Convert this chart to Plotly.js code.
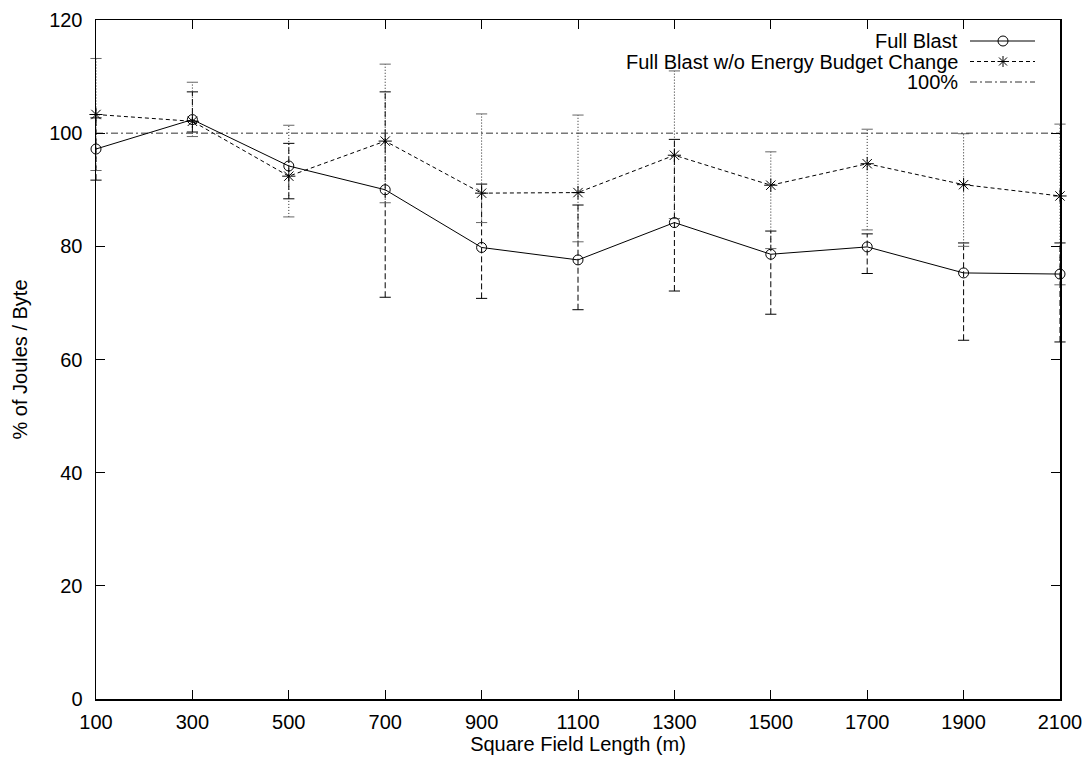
<!DOCTYPE html>
<html>
<head>
<meta charset="utf-8">
<script src="https://cdn.plot.ly/plotly-3.0.1.min.js"></script>
<style>html,body{margin:0;padding:0;background:#fff;}#chart{width:1089px;height:768px;}</style>
</head>
<body>
<div id="chart"></div>
<script>
// ---- data ----
const fieldLength = [100, 300, 500, 700, 900, 1100, 1300, 1500, 1700, 1900, 2100];

const fullBlast     = [97.2, 102.4, 94.2, 90.0, 79.8, 77.6, 84.2, 78.6, 79.9, 75.3, 75.1];
const fullBlastLow  = [91.7, 100.2, 88.4, 71.0, 70.8, 68.8, 72.1, 68.0, 75.2, 63.4, 63.1];
const fullBlastHigh = [102.7, 107.3, 98.2, 107.3, 91.0, 87.3, 98.9, 82.7, 82.2, 80.6, 80.6];

const noBudget     = [103.3, 102.1, 92.4, 98.6, 89.4, 89.5, 96.1, 90.8, 94.6, 90.9, 88.9];
const noBudgetLow  = [93.4, 99.4, 85.2, 87.7, 84.2, 80.8, 84.9, 79.6, 82.9, 80.0, 73.2];
const noBudgetHigh = [113.2, 109.0, 101.4, 112.2, 103.4, 103.2, 111.0, 96.7, 100.7, 99.9, 101.6];

const referenceLevel = [100, 100, 100, 100, 100, 100, 100, 100, 100, 100, 100];

const xTicks = [100, 300, 500, 700, 900, 1100, 1300, 1500, 1700, 1900, 2100];
const yTicks = [0, 20, 40, 60, 80, 100, 120];

const legendLabels = ['Full Blast', 'Full Blast w/o Energy Budget Change', '100%'];

// ---- helpers ----
function barSegments(xs, lo, hi) {
  const x = [], y = [];
  xs.forEach((v, i) => { x.push(v, v, null); y.push(lo[i], hi[i], null); });
  return {x, y};
}
function capPoints(xs, lo, hi) {
  const x = [], y = [];
  xs.forEach((v, i) => { x.push(v, v); y.push(lo[i], hi[i]); });
  return {x, y};
}

const fbBars = barSegments(fieldLength, fullBlastLow, fullBlastHigh);
const fbCaps = capPoints(fieldLength, fullBlastLow, fullBlastHigh);
const nbBars = barSegments(fieldLength, noBudgetLow, noBudgetHigh);
const nbCaps = capPoints(fieldLength, noBudgetLow, noBudgetHigh);

const FB_DASH = '6px,3px';
const NB_DASH = '4px,3px';
const NB_BAR_DASH = '1px,2px';
const REF_DASH = '7px,3px,2px,3px';

const traces = [
  {x: fbBars.x, y: fbBars.y, mode: 'lines', line: {color: '#000', width: 1, dash: FB_DASH},
   showlegend: false, hoverinfo: 'skip', connectgaps: false, cliponaxis: false},
  {x: fbCaps.x, y: fbCaps.y, mode: 'markers', showlegend: false, hoverinfo: 'skip', cliponaxis: false,
   marker: {symbol: 'line-ew', size: 8, line: {color: '#000', width: 1}}},
  {x: nbBars.x, y: nbBars.y, mode: 'lines', line: {color: '#222', width: 1, dash: NB_BAR_DASH},
   showlegend: false, hoverinfo: 'skip', connectgaps: false, cliponaxis: false},
  {x: nbCaps.x, y: nbCaps.y, mode: 'markers', showlegend: false, hoverinfo: 'skip', cliponaxis: false,
   marker: {symbol: 'line-ew', size: 8, line: {color: '#666', width: 1}}},
  {x: fieldLength, y: referenceLevel, mode: 'lines', name: legendLabels[2], showlegend: false,
   line: {color: '#333', width: 1, dash: REF_DASH}},
  {x: fieldLength, y: fullBlast, mode: 'lines+markers', name: legendLabels[0], showlegend: false, cliponaxis: false,
   line: {color: '#000', width: 1},
   marker: {symbol: 'circle-open', size: 10, color: '#000', line: {color: '#000', width: 1}}},
  {x: fieldLength, y: noBudget, mode: 'lines+markers', name: legendLabels[1], showlegend: false, cliponaxis: false,
   line: {color: '#000', width: 1, dash: NB_DASH},
   marker: {symbol: 'asterisk-open', size: 11, color: '#000', line: {color: '#000', width: 1}}}
];

// ---- gnuplot-style key (text right-aligned, sample on the right) ----
const L = 96, R = 1060, T = 20, B = 699;
const px = v => (v - L) / (R - L);
const py = v => (B - v) / (B - T);
const rowsY = [41, 61.5, 82];
const annotations = legendLabels.map((t, i) => ({
  xref: 'paper', yref: 'paper', x: px(960), y: py(rowsY[i]), xanchor: 'right', yanchor: 'middle',
  text: t, showarrow: false, font: {family: 'Liberation Sans, Arial, sans-serif', size: 20, color: '#000'}
}));
const sampleDash = ['solid', NB_DASH, REF_DASH];
const sampleColor = ['#000', '#000', '#333'];
const shapes = sampleDash.map((d, i) => ({
  type: 'line', xref: 'paper', yref: 'paper', x0: px(970), x1: px(1035), y0: py(rowsY[i]), y1: py(rowsY[i]),
  line: {color: sampleColor[i], width: 1, dash: d}
}));
shapes.push({
  type: 'circle', xref: 'paper', yref: 'paper', xsizemode: 'pixel', ysizemode: 'pixel',
  xanchor: px(1003), yanchor: py(rowsY[0]), x0: -5, x1: 5, y0: -5, y1: 5,
  line: {color: '#000', width: 1}
});
shapes.push({
  type: 'path', xref: 'paper', yref: 'paper', xsizemode: 'pixel', ysizemode: 'pixel',
  xanchor: px(1003), yanchor: py(rowsY[1]),
  path: 'M-5.5,0L5.5,0M0,-5.5L0,5.5M-4,-4L4,4M-4,4L4,-4',
  line: {color: '#000', width: 1}
});

const axisFont = {family: 'Liberation Sans, Arial, sans-serif', size: 20, color: '#000'};

const layout = {
  width: 1089, height: 768,
  margin: {l: 96, r: 29, t: 20, b: 69, pad: 0},
  paper_bgcolor: '#fff', plot_bgcolor: '#fff',
  font: axisFont,
  showlegend: false,
  xaxis: {
    range: [100, 2100], tickvals: xTicks, ticktext: xTicks.map(String),
    ticks: 'inside', ticklen: 9, tickwidth: 1, tickcolor: '#000',
    showline: true, linecolor: '#000', linewidth: 1.5, mirror: 'allticks',
    showgrid: false, zeroline: false, tickfont: axisFont,
    ticklabelstandoff: 4,
    title: {text: 'Square Field Length (m)', font: axisFont, standoff: 4}
  },
  yaxis: {
    range: [0, 120], tickvals: yTicks, ticktext: yTicks.map(String),
    ticks: 'inside', ticklen: 9, tickwidth: 1, tickcolor: '#000',
    showline: true, linecolor: '#000', linewidth: 1.5, mirror: 'allticks',
    showgrid: false, zeroline: false, tickfont: axisFont,
    ticklabelstandoff: 8,
    title: {text: '% of Joules / Byte', font: axisFont, standoff: 16}
  },
  annotations: annotations,
  shapes: shapes
};

Plotly.newPlot('chart', traces, layout, {staticPlot: true, displayModeBar: false});
</script>
</body>
</html>
